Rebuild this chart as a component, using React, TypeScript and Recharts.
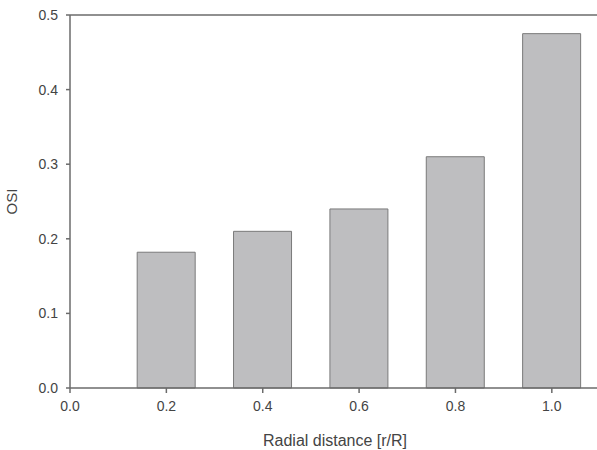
import { ComposedChart, Bar, XAxis, YAxis, ReferenceLine } from 'recharts';

const radialPositions = [0.2, 0.4, 0.6, 0.8, 1.0];
const osiValues = [0.182, 0.21, 0.24, 0.31, 0.475];
const xTicks = [0, 0.2, 0.4, 0.6, 0.8, 1.0];
const yTicks = [0, 0.1, 0.2, 0.3, 0.4, 0.5];

const data = radialPositions.map((r, i) => ({ r, osi: osiValues[i] }));

const axisColor = '#6b6b6b';
const textColor = '#444444';
const fmt = (v: number) => v.toFixed(1);

export default function App() {
  return (
    <div style={{ position: 'absolute', left: 0, top: 0, fontFamily: 'Liberation Sans, Arial, sans-serif' }}>
      <ComposedChart
        width={610}
        height={450}
        data={data}
        margin={{ top: 15, right: 10, left: 0, bottom: 0 }}
      >
        <XAxis
          dataKey="r"
          type="number"
          domain={[0, 1.1]}
          ticks={xTicks}
          tickFormatter={fmt}
          height={62}
          stroke={axisColor}
          strokeWidth={1.5}
          tickSize={5}
          tickMargin={8}
          tick={{ fill: textColor, fontSize: 14 }}
          label={{ value: 'Radial distance [r/R]', position: 'insideBottom', offset: 4, fill: textColor, fontSize: 16 }}
        />
        <YAxis
          type="number"
          domain={[0, 0.5]}
          ticks={yTicks}
          tickFormatter={fmt}
          width={70}
          stroke={axisColor}
          strokeWidth={1.5}
          tickSize={4}
          tickMargin={8}
          tick={{ fill: textColor, fontSize: 14 }}
          label={{ value: 'OSI', angle: -90, position: 'center', dx: -23, fill: textColor, fontSize: 15 }}
        />
        <ReferenceLine y={0.5} stroke={axisColor} strokeWidth={1.5} />
        <Bar
          dataKey="osi"
          barSize={58}
          fill="#bebec0"
          stroke="#7a7a7a"
          strokeWidth={1}
          isAnimationActive={false}
        />
      </ComposedChart>
    </div>
  );
}
